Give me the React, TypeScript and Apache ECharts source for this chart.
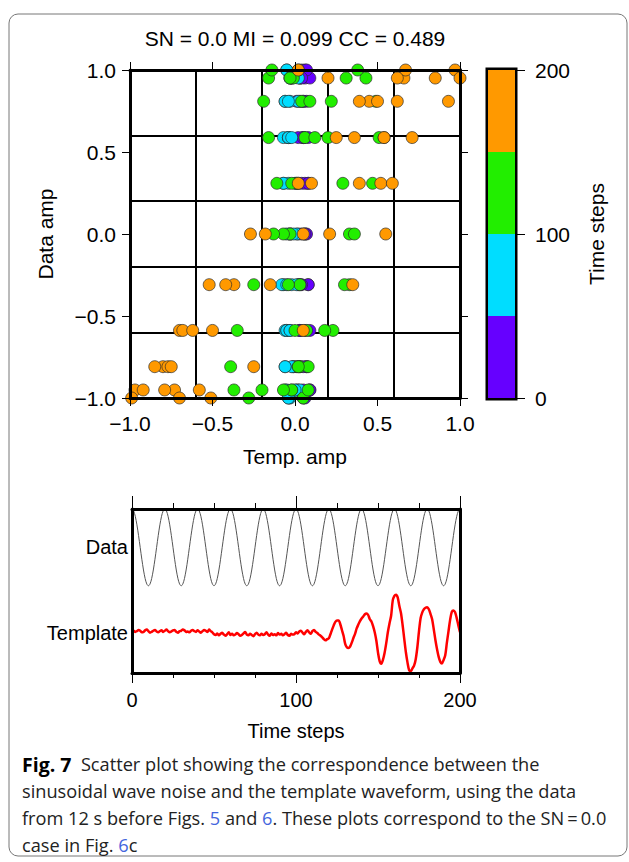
import React, { useEffect, useRef } from "react";
import * as echarts from "echarts";

// Data trace (sinusoidal wave noise), one value per time step 0..200
const DATA_AMP: number[] = [
  1, 0.951, 0.809, 0.588, 0.309, 0, -0.309, -0.588, -0.809, -0.951, -1, -0.951, -0.809, -0.588, -0.309, 0, 0.309, 0.588, 0.809, 0.951,
  1, 0.951, 0.809, 0.588, 0.309, 0, -0.309, -0.588, -0.809, -0.951, -1, -0.951, -0.809, -0.588, -0.309, 0, 0.309, 0.588, 0.809, 0.951,
  1, 0.951, 0.809, 0.588, 0.309, 0, -0.309, -0.588, -0.809, -0.951, -1, -0.951, -0.809, -0.588, -0.309, 0, 0.309, 0.588, 0.809, 0.951,
  1, 0.951, 0.809, 0.588, 0.309, 0, -0.309, -0.588, -0.809, -0.951, -1, -0.951, -0.809, -0.588, -0.309, 0, 0.309, 0.588, 0.809, 0.951,
  1, 0.951, 0.809, 0.588, 0.309, 0, -0.309, -0.588, -0.809, -0.951, -1, -0.951, -0.809, -0.588, -0.309, 0, 0.309, 0.588, 0.809, 0.951,
  1, 0.951, 0.809, 0.588, 0.309, 0, -0.309, -0.588, -0.809, -0.951, -1, -0.951, -0.809, -0.588, -0.309, 0, 0.309, 0.588, 0.809, 0.951,
  1, 0.951, 0.809, 0.588, 0.309, 0, -0.309, -0.588, -0.809, -0.951, -1, -0.951, -0.809, -0.588, -0.309, 0, 0.309, 0.588, 0.809, 0.951,
  1, 0.951, 0.809, 0.588, 0.309, 0, -0.309, -0.588, -0.809, -0.951, -1, -0.951, -0.809, -0.588, -0.309, 0, 0.309, 0.588, 0.809, 0.951,
  1, 0.951, 0.809, 0.588, 0.309, 0, -0.309, -0.588, -0.809, -0.951, -1, -0.951, -0.809, -0.588, -0.309, 0, 0.309, 0.588, 0.809, 0.951,
  1, 0.951, 0.809, 0.588, 0.309, 0, -0.309, -0.588, -0.809, -0.951, -1, -0.951, -0.809, -0.588, -0.309, 0, 0.309, 0.588, 0.809, 0.951,
  1,
];

// Template waveform amplitude, one value per time step 0..200
const TEMPLATE_AMP: number[] = [
  // 0-49
  0.04, 0.06, 0.03, 0.05, 0.08, 0.06, 0.02, 0.03, 0.07, 0.09,
  0.05, 0.01, 0.03, 0.06, 0.08, 0.04, 0.02, 0.05, 0.07, 0.03,
  0.06, 0.09, 0.05, 0.02, 0.04, 0.07, 0.08, 0.03, 0.01, 0.05,
  0.06, 0.09, 0.07, 0.03, 0.04, 0.02, 0.06, 0.08, 0.05, 0.03,
  0.07, 0.04, 0.01, 0.05, 0.08, 0.06, 0.03, 0.09, 0.05, 0.02,
  // 50-99
  -0.03, -0.05, -0.01, -0.06, -0.02, 0.01, -0.04, -0.07, -0.03, 0.02,
  -0.05, -0.02, -0.06, -0.04, 0.0, -0.03, -0.07, -0.05, -0.01, 0.03,
  -0.04, -0.06, -0.02, -0.05, -0.08, -0.03, 0.01, -0.04, -0.06, -0.02,
  -0.05, -0.03, 0.02, -0.04, -0.07, -0.01, -0.05, -0.03, -0.06, 0.0,
  -0.04, -0.02, -0.06, -0.03, 0.01, -0.05, -0.07, -0.02, -0.04, -0.03,
  // 100-114
  0.02, -0.01, 0.04, 0.06, 0.01, -0.03, 0.03, 0.07, 0.02, -0.02,
  0.05, 0.08, 0.03, 0.0, -0.04,
  // 115-149
  -0.07, -0.11, -0.16, -0.19, -0.16, -0.14, -0.03, 0.09, 0.2, 0.29,
  0.33, 0.33, 0.23, 0.08, -0.07, -0.28, -0.37, -0.39, -0.35, -0.25,
  -0.13, -0.02, 0.12, 0.22, 0.31, 0.38, 0.43, 0.49, 0.51, 0.47,
  0.36, 0.3, 0.18, 0.02, -0.2,
  // 150-174
  -0.51, -0.73, -0.8, -0.7, -0.52, -0.27, 0.02, 0.25, 0.45, 0.85,
  0.97, 1.0, 0.93, 0.71, 0.52, 0.21, -0.15, -0.5, -0.77, -0.97,
  -0.99, -0.92, -0.85, -0.68, -0.37,
  // 175-200
  0.05, 0.39, 0.54, 0.62, 0.66, 0.67, 0.62, 0.5, 0.36, 0.1,
  -0.18, -0.42, -0.62, -0.75, -0.79, -0.7, -0.58, -0.25, 0.05, 0.35,
  0.55, 0.59, 0.54, 0.39, 0.2, 0.02,
];

// Colour bands of the time-step palette
const BAND_STARTS: number[] = [0, 50, 100, 150];
const BAND_SIZES: number[] = [50, 50, 50, 50];
const BAND_COLORS: string[] = ["#6600ff", "#00ddff", "#22ee00", "#ff9900"];

const TITLE = "SN = 0.0 MI = 0.099 CC = 0.489";

const FONT = "'Liberation Sans', Arial, Helvetica, sans-serif";
const CAP_FONT = "'Open Sans', 'Noto Sans', sans-serif";
const CAP_SIZE = 18.2;

const fmtAmp = (v: number) => {
  const s = Math.abs(v).toFixed(1);
  return v < -1e-9 ? "\u2212" + s : s;
};

export default function App() {
  const ref = useRef<HTMLDivElement>(null);

  useEffect(() => {
    if (!ref.current) return;
    const chart = echarts.init(ref.current, null, { renderer: "svg" });

    const scatterData = TEMPLATE_AMP.map((x, t) => [x, DATA_AMP[t], t]);
    const dataLine = DATA_AMP.map((v, t) => [t, v]);
    const tplLine = TEMPLATE_AMP.map((v, t) => [t, v]);

    const frameLine = { show: true, onZero: false, lineStyle: { color: "#000", width: 3 } };
    const noLine = { show: false, onZero: false };
    const tickStyle = { color: "#000", width: 1 };

    const option: any = {
      animation: false,
      backgroundColor: "#fff",
      textStyle: { fontFamily: FONT },
      grid: [
        { left: 130, top: 70, width: 330, height: 328 },
        { left: 132, top: 509, width: 328, height: 164 },
        { left: 488, top: 70, width: 27, height: 328, show: true, borderColor: "#000", borderWidth: 5, backgroundColor: "transparent" },
      ],
      xAxis: [
        {
          gridIndex: 0, type: "value", position: "bottom", min: -1, max: 1, interval: 0.5, z: 10,
          axisLine: frameLine,
          axisTick: { show: true, length: 8, lineStyle: tickStyle },
          axisLabel: { fontSize: 21, color: "#000", fontFamily: FONT, margin: 15, formatter: fmtAmp },
          splitLine: { show: false },
          name: "Temp. amp", nameLocation: "middle", nameGap: 48,
          nameTextStyle: { fontSize: 21, color: "#000", fontFamily: FONT },
        },
        {
          gridIndex: 0, type: "value", position: "top", min: -1, max: 1, interval: 0.5, z: 10,
          axisLine: frameLine,
          axisTick: { show: true, length: 8, lineStyle: tickStyle },
          axisLabel: { show: false },
          splitLine: { show: false },
        },
        {
          gridIndex: 0, type: "value", position: "bottom", min: -1, max: 1, interval: 0.4,
          axisLine: noLine, axisTick: { show: false }, axisLabel: { show: false },
          splitLine: { show: true, lineStyle: { color: "#000", width: 2 } },
        },
        {
          gridIndex: 1, type: "value", position: "bottom", min: 0, max: 200, interval: 100, z: 10,
          axisLine: frameLine,
          axisTick: { show: true, length: 10, lineStyle: tickStyle },
          minorTick: { show: true, splitNumber: 4, length: 5, lineStyle: tickStyle },
          axisLabel: { fontSize: 20, color: "#000", fontFamily: FONT, margin: 17 },
          splitLine: { show: false },
          name: "Time steps", nameLocation: "middle", nameGap: 48,
          nameTextStyle: { fontSize: 20, color: "#000", fontFamily: FONT },
        },
        {
          gridIndex: 1, type: "value", position: "top", min: 0, max: 200, interval: 100, z: 10,
          axisLine: frameLine,
          axisTick: { show: true, length: 13, lineStyle: tickStyle },
          minorTick: { show: true, splitNumber: 4, length: 6, lineStyle: tickStyle },
          axisLabel: { show: false },
          splitLine: { show: false },
        },
        {
          gridIndex: 2, type: "category", data: ["cb"], show: false,
          axisLine: noLine,
        },
      ],
      yAxis: [
        {
          gridIndex: 0, type: "value", position: "left", min: -1, max: 1, interval: 0.5, z: 10,
          axisLine: frameLine,
          axisTick: { show: true, length: 8, lineStyle: tickStyle },
          axisLabel: { fontSize: 21, color: "#000", fontFamily: FONT, margin: 14, formatter: fmtAmp },
          splitLine: { show: false },
          name: "Data amp", nameLocation: "middle", nameGap: 74, nameRotate: 90,
          nameTextStyle: { fontSize: 21, color: "#000", fontFamily: FONT },
        },
        {
          gridIndex: 0, type: "value", position: "right", min: -1, max: 1, interval: 0.5, z: 10,
          axisLine: frameLine,
          axisTick: { show: true, length: 8, lineStyle: tickStyle },
          axisLabel: { show: false },
          splitLine: { show: false },
        },
        {
          gridIndex: 0, type: "value", position: "left", min: -1, max: 1, interval: 0.4,
          axisLine: noLine, axisTick: { show: false }, axisLabel: { show: false },
          splitLine: { show: true, lineStyle: { color: "#000", width: 2 } },
        },
        {
          gridIndex: 1, type: "value", position: "left", min: -3.27, max: 1, interval: 3.27, z: 10,
          axisLine: frameLine,
          axisTick: { show: false },
          axisLabel: { fontSize: 20, color: "#000", fontFamily: FONT, margin: 4, formatter: (v: number) => (Math.abs(v) < 1e-6 ? "Data" : "") },
          splitLine: { show: false },
        },
        {
          gridIndex: 1, type: "value", position: "left", min: -1.04, max: 3.23, interval: 1.04,
          axisLine: noLine,
          axisTick: { show: false },
          axisLabel: { fontSize: 20, color: "#000", fontFamily: FONT, margin: 4, formatter: (v: number) => (Math.abs(v) < 1e-6 ? "Template" : "") },
          splitLine: { show: false },
        },
        {
          gridIndex: 1, type: "value", position: "right", min: 0, max: 1, z: 10,
          axisLine: frameLine, axisTick: { show: false }, axisLabel: { show: false }, splitLine: { show: false },
        },
        {
          gridIndex: 2, type: "value", position: "right", min: 0, max: 200, interval: 100,
          axisLine: noLine,
          axisTick: { show: true, length: 10, lineStyle: tickStyle },
          axisLabel: { fontSize: 21, color: "#000", fontFamily: FONT, margin: 20 },
          splitLine: { show: false },
          name: "Time steps", nameLocation: "middle", nameGap: 71, nameRotate: 90,
          nameTextStyle: { fontSize: 21, color: "#000", fontFamily: FONT },
        },
      ],
      visualMap: {
        type: "piecewise", show: false, dimension: 2, seriesIndex: 0,
        pieces: BAND_STARTS.map((s, i) =>
          i === BAND_STARTS.length - 1
            ? { gte: s, lte: s + BAND_SIZES[i], color: BAND_COLORS[i] }
            : { gte: s, lt: s + BAND_SIZES[i], color: BAND_COLORS[i] }
        ),
      },
      series: [
        {
          type: "scatter", xAxisIndex: 0, yAxisIndex: 0, data: scatterData,
          symbolSize: 12, clip: false, z: 3,
          itemStyle: { borderColor: "rgba(40,40,40,0.85)", borderWidth: 0.8, opacity: 1 },
        },
        {
          type: "line", xAxisIndex: 3, yAxisIndex: 3, data: dataLine, showSymbol: false, smooth: 0.3,
          lineStyle: { color: "#555", width: 1 },
        },
        {
          type: "line", xAxisIndex: 3, yAxisIndex: 4, data: tplLine, showSymbol: false, smooth: 0.3,
          lineStyle: { color: "#ff0000", width: 2.5 },
        },
        ...BAND_SIZES.map((sz, i) => ({
          type: "bar", xAxisIndex: 5, yAxisIndex: 6, stack: "cb", data: [sz], barWidth: "100%",
          itemStyle: { color: BAND_COLORS[i] },
        })),
      ],
      graphic: [
        {
          type: "rect", z: -10, silent: true,
          shape: { x: 9, y: 14, width: 618, height: 842, r: 9 },
          style: { fill: "none", stroke: "#777", lineWidth: 1 },
        },
        {
          type: "text", x: 295, y: 38,
          style: { text: TITLE, fontSize: 21, fontFamily: FONT, fill: "#000", textAlign: "center", textVerticalAlign: "middle" },
        },
        {
          type: "text", x: 22, y: 764,
          style: {
            text: "{b|Fig. 7}  Scatter plot showing the correspondence between the",
            fontSize: CAP_SIZE, fontFamily: CAP_FONT, fill: "#222", textVerticalAlign: "middle",
            rich: { b: { fontWeight: "bold", fontSize: 19.5, fontFamily: CAP_FONT, fill: "#000" } },
          },
        },
        {
          type: "text", x: 22, y: 791,
          style: {
            text: "sinusoidal wave noise and the template waveform, using the data",
            fontSize: CAP_SIZE, fontFamily: CAP_FONT, fill: "#222", textVerticalAlign: "middle",
          },
        },
        {
          type: "text", x: 22, y: 818,
          style: {
            text: "from 12 s before Figs. {l|5} and {l|6}. These plots correspond to the SN\u2009=\u20090.0",
            fontSize: CAP_SIZE, fontFamily: CAP_FONT, fill: "#222", textVerticalAlign: "middle",
            rich: { l: { fill: "#4466dd", fontSize: CAP_SIZE, fontFamily: CAP_FONT } },
          },
        },
        {
          type: "text", x: 22, y: 845,
          style: {
            text: "case in Fig. {l|6}c",
            fontSize: CAP_SIZE, fontFamily: CAP_FONT, fill: "#222", textVerticalAlign: "middle",
            rich: { l: { fill: "#4466dd", fontSize: CAP_SIZE, fontFamily: CAP_FONT } },
          },
        },
      ],
    };

    chart.setOption(option);
    return () => chart.dispose();
  }, []);

  return (
    <div
      ref={ref}
      style={{ position: "fixed", left: 0, top: 0, width: 629, height: 862, background: "#fff" }}
    />
  );
}
